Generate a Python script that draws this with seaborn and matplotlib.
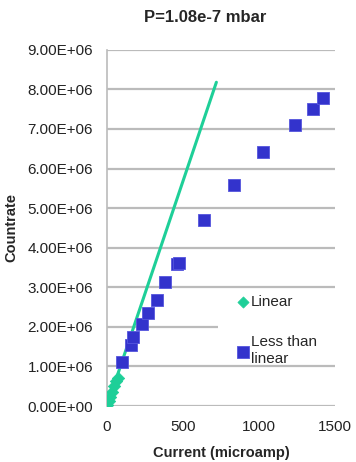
import numpy as np
import pandas as pd
import matplotlib
matplotlib.use("Agg")
import matplotlib.pyplot as plt
import matplotlib.ticker as mticker
from matplotlib.patches import Rectangle
import seaborn as sns

# data
lin_current = [0, 10, 20, 30, 45, 60, 75]
lin_rate = [0.03e6, 0.12e6, 0.22e6, 0.35e6, 0.5e6, 0.62e6, 0.72e6]
fit_current = [0, 720]
fit_rate = [0, 8.18e6]
less_current = [99, 159, 172, 231, 271, 330, 383, 463, 476, 641, 839, 1024, 1236, 1355, 1421]
less_rate = [1.11e6, 1.54e6, 1.74e6, 2.07e6, 2.35e6, 2.68e6, 3.13e6, 3.59e6, 3.61e6,
             4.70e6, 5.58e6, 6.41e6, 7.10e6, 7.50e6, 7.78e6]

green = "#1ecf98"
blue = "#3333cc"

sns.set_style("white")
plt.rcParams['font.family'] = ['Liberation Sans', 'DejaVu Sans']

fig = plt.figure(figsize=(3.56, 4.62), dpi=100)
ax = fig.add_axes([0.3006, 0.1212, 0.640, 0.771])

fit = pd.DataFrame({"x": fit_current, "y": fit_rate})
sns.lineplot(data=fit, x="x", y="y", color=green, lw=2.2, legend=False, ax=ax, zorder=3)
sns.scatterplot(x=lin_current, y=lin_rate, marker="D", s=40, color=green,
                edgecolor=green, label="Linear", ax=ax, zorder=4)
sns.scatterplot(x=less_current, y=less_rate, marker="s", s=85, color=blue,
                edgecolor="#5555dd", linewidth=0.6, label="Less than\nlinear", ax=ax, zorder=4)

ax.set_xlim(0, 1500)
ax.set_ylim(0, 9e6)
ax.set_xticks([0, 500, 1000, 1500])
ax.set_yticks(np.arange(0, 9.01e6, 1e6))
ax.yaxis.set_major_formatter(mticker.FuncFormatter(lambda v, p: f"{v:.2E}"))
ax.grid(axis="y", color="#bbbbbb", lw=1.6)
ax.grid(axis="x", visible=False)
for s in ["top", "right", "bottom"]:
    ax.spines[s].set_visible(False)
ax.spines["left"].set_color("#bbbbbb")
ax.spines["left"].set_linewidth(1.2)
ax.tick_params(axis="y", length=0, labelsize=11, pad=10, colors="#222222")
ax.tick_params(axis="x", length=0, labelsize=11, pad=10, colors="#222222")
ax.set_axisbelow(True)

# white legend area hiding part of the grid
ax.add_patch(Rectangle((0.487, 0.125), 0.52, 0.195, transform=ax.transAxes,
                       facecolor="white", edgecolor="none", zorder=2, clip_on=False))

ax.set_xlabel("Current (microamp)", fontsize=10.5, fontweight="bold", labelpad=9)
ax.set_ylabel("Countrate", fontsize=10.5, fontweight="bold")
ax.yaxis.set_label_coords(-0.39, 0.5)
fig.text(205 / 356, 1 - 17 / 462, "P=1.08e-7 mbar", fontsize=12, fontweight="bold",
         ha="center", va="center")

leg = ax.legend(loc="upper left", bbox_to_anchor=(0.505, 0.345), frameon=False,
                fontsize=11, handletextpad=-0.1, labelspacing=1.7,
                borderpad=0.3, handlelength=1.2, markerscale=0.9)
leg.set_zorder(5)

fig.savefig("out.png", dpi=100)
